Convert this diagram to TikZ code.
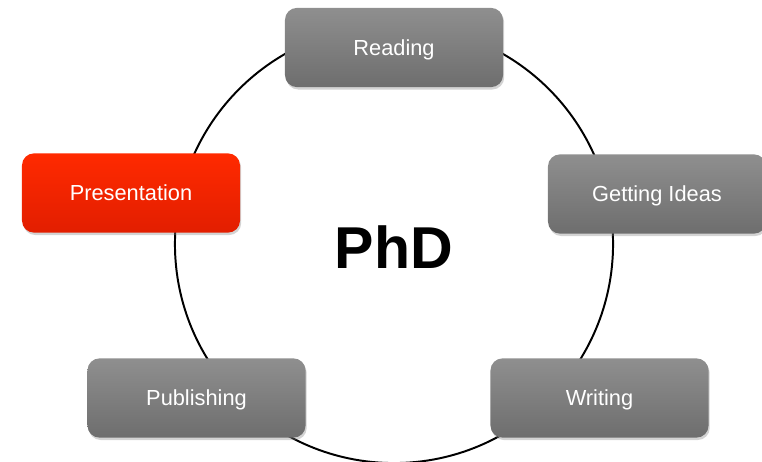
\documentclass[tikz,border=0pt]{standalone}
\usepackage{fontspec}
\setmainfont{Liberation Sans}
\usetikzlibrary{shadows}

\tikzset{
  stage/.style={rectangle, rounded corners=0.3cm, minimum width=5.45cm, minimum height=1.98cm,
    top color=gray!88!white, bottom color=black!57, text=white, font=\fontsize{15.5}{18}\selectfont,
    text depth=0pt,
    drop shadow={shadow xshift=0.03cm, shadow yshift=-0.06cm, opacity=0.35}},
  hot/.style={stage, top color={rgb,255:red,255;green,42;blue,0}, bottom color={rgb,255:red,226;green,30;blue,0}}
}

\begin{document}
\begin{tikzpicture}[x=0.025cm, y=-0.025cm]
  \useasboundingbox (0,0) rectangle (762,461);

  % cycle
  \node[draw, circle, line width=1.4pt, minimum size=10.95cm] (cycle) at (394,244) {};
  \node[font=\bfseries\fontsize{42}{48}\selectfont] (phd) at (394,247) {PhD};

  % stages
  \node[stage] (reading) at (394,47.5) {Reading};
  \node[stage] (ideas) at (657,194) {Getting Ideas};
  \node[stage] (writing) at (599.5,398) {Writing};
  \node[stage] (publishing) at (196.5,398) {Publishing};
  \node[hot] (presentation) at (131,193) {Presentation};

\end{tikzpicture}
\end{document}
